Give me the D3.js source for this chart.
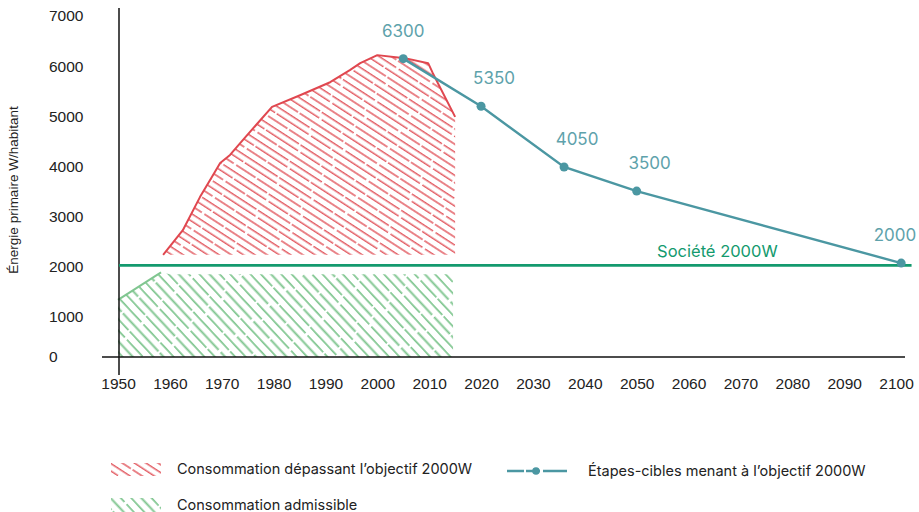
<!DOCTYPE html>
<html>
<head>
<meta charset="utf-8">
<script src="https://cdn.jsdelivr.net/npm/d3@7"></script>
<style>
  body { margin: 0; background: #fff; }
  svg { display: block; }
  .tick text { font-family: "Liberation Sans", Arial, sans-serif; fill: #222; }
</style>
</head>
<body>
<svg width="919" height="512"></svg>
<script>
// tick labels
var xTicks = [1950, 1960, 1970, 1980, 1990, 2000, 2010, 2020, 2030, 2040, 2050, 2060, 2070, 2080, 2090, 2100];
var yTicks = [0, 1000, 2000, 3000, 4000, 5000, 6000, 7000];

// consumption above the 2000W target
var redYears  = [1958.7, 1962.5, 1965.8, 1968.1, 1969.7, 1971.6, 1974.1, 1979.7, 1985.1, 1990.9, 1994.7, 1996.7, 2000.0, 2005.3, 2009.8, 2010.7, 2015.0];
var redValues = [2240, 2730, 3390, 3790, 4070, 4230, 4530, 5190, 5420, 5680, 5920, 6060, 6220, 6160, 6060, 5860, 4990];
var redBase = 2240;

// admissible consumption
var greenYears  = [1950, 1958.3, 1960, 2014.6];
var greenValues = [1340, 1890, 1850, 1850];

// target milestones
var stepYears  = [2005, 2020, 2036, 2050, 2101];
var stepValues = [6150, 5200, 3990, 3510, 2075];
var stepLabels = ["6300", "5350", "4050", "3500", "2000"];

// 2000W society line
var societyYears = [1950, 2103];
var societyValue = 2030;

var svg = d3.select("svg");

var x = d3.scaleLinear().domain([1950, 2100]).range([118, 896]);
var y = d3.scaleLinear().domain([0, 1000, 7000]).range([357, 317, 16]);

var red = "#e0474f", redHatch = "#e25a61";
var green = "#139a6e", greenHatch = "#80c690";
var teal = "#4b97a2", tealText = "#5ea2ab";

var defs = svg.append("defs");
// hand-drawn looking hatch: 3 rows per tile, each with its own small breaks
function hatch(id, color, angle, gap, width) {
  var p = defs.append("pattern")
      .attr("id", id)
      .attr("patternUnits", "userSpaceOnUse")
      .attr("width", 120)
      .attr("height", gap * 3)
      .attr("patternTransform", "rotate(" + angle + ")");
  [0, 47, 83].forEach(function(off, i) {
    p.append("line")
        .attr("x1", 0).attr("x2", 120)
        .attr("y1", gap * (i + 0.5)).attr("y2", gap * (i + 0.5))
        .attr("stroke", color)
        .attr("stroke-width", width)
        .attr("stroke-dasharray", "52 2 38 3 23 2")
        .attr("stroke-dashoffset", off);
  });
}
hatch("hatchRed", redHatch, 33, 6.5, 1.5);
hatch("hatchGreen", greenHatch, 47, 7.5, 1.8);

// areas
var redPts = redYears.map(function(d, i) { return [d, redValues[i]]; });
var greenPts = greenYears.map(function(d, i) { return [d, greenValues[i]]; });

svg.append("path")
    .datum(greenPts)
    .attr("fill", "url(#hatchGreen)")
    .attr("d", d3.area()
        .x(function(d) { return x(d[0]); })
        .y0(y(0))
        .y1(function(d) { return y(d[1]); }));

svg.append("path")
    .datum(greenPts.slice(0, 2))
    .attr("fill", "none")
    .attr("stroke", greenHatch)
    .attr("stroke-width", 2)
    .attr("d", d3.line()
        .x(function(d) { return x(d[0]); })
        .y(function(d) { return y(d[1]); }));

svg.append("path")
    .datum(redPts)
    .attr("fill", "url(#hatchRed)")
    .attr("d", d3.area()
        .x(function(d) { return x(d[0]); })
        .y0(y(redBase))
        .y1(function(d) { return y(d[1]); }));

svg.append("path")
    .datum(redPts)
    .attr("fill", "none")
    .attr("stroke", red)
    .attr("stroke-width", 2)
    .attr("stroke-linejoin", "round")
    .attr("d", d3.line()
        .x(function(d) { return x(d[0]); })
        .y(function(d) { return y(d[1]); }));

// axes
svg.append("line")
    .attr("x1", x(1950) + 1).attr("x2", x(1950) + 1)
    .attr("y1", 8).attr("y2", 375)
    .attr("stroke", "#111").attr("stroke-width", 1.5);
svg.append("line")
    .attr("x1", 102).attr("x2", 905)
    .attr("y1", y(0)).attr("y2", y(0))
    .attr("stroke", "#111").attr("stroke-width", 1.5);

var yAxis = svg.append("g")
    .call(d3.axisLeft(y).tickValues(yTicks).tickSize(0).tickFormat(d3.format("d")));
yAxis.select(".domain").remove();
yAxis.selectAll("text")
    .attr("x", 49)
    .attr("text-anchor", "start")
    .style("font-size", "15.5px");

var xAxis = svg.append("g")
    .attr("transform", "translate(0," + (y(0) + 27) + ")")
    .call(d3.axisBottom(x).tickValues(xTicks).tickSize(0).tickFormat(d3.format("d")));
xAxis.select(".domain").remove();
xAxis.selectAll("text")
    .attr("y", 0)
    .attr("dy", "0.32em")
    .style("font-size", "15.5px");

svg.append("text")
    .attr("transform", "translate(18,190) rotate(-90)")
    .attr("text-anchor", "middle")
    .style("font-family", "'Liberation Sans', Arial, sans-serif")
    .style("font-size", "13.5px")
    .attr("fill", "#222")
    .text("Énergie primaire W/habitant");

// 2000W society line
svg.append("line")
    .attr("x1", x(societyYears[0]) + 1).attr("x2", x(societyYears[1]))
    .attr("y1", y(societyValue)).attr("y2", y(societyValue))
    .attr("stroke", green).attr("stroke-width", 2.8);

svg.append("text")
    .attr("x", x(2070) - 23)
    .attr("y", y(societyValue) - 8)
    .attr("text-anchor", "middle")
    .style("font-family", "Inter, 'Noto Sans', sans-serif")
    .style("font-size", "16.5px")
    .attr("fill", green)
    .text("Société 2000W");

// milestones
var stepPts = stepYears.map(function(d, i) { return [d, stepValues[i], stepLabels[i]]; });
svg.append("path")
    .datum(stepPts)
    .attr("fill", "none")
    .attr("stroke", teal)
    .attr("stroke-width", 2.4)
    .attr("d", d3.line()
        .x(function(d) { return x(d[0]); })
        .y(function(d) { return y(d[1]); }));

svg.selectAll(".step")
  .data(stepPts)
  .enter().append("circle")
    .attr("class", "step")
    .attr("cx", function(d) { return x(d[0]); })
    .attr("cy", function(d) { return y(d[1]); })
    .attr("r", 4.5)
    .attr("fill", teal);

var last = stepPts.length - 1;
svg.selectAll(".steplabel")
  .data(stepPts)
  .enter().append("text")
    .attr("class", "steplabel")
    .attr("x", function(d, i) { return x(d[0]) + (i === 0 ? 0 : i === last ? 15 : 13); })
    .attr("y", function(d) { return y(d[1]) - 22; })
    .attr("text-anchor", function(d, i) { return i === last ? "end" : "middle"; })
    .style("font-family", "Inter, 'Noto Sans', sans-serif")
    .style("font-size", "17px")
    .attr("fill", tealText)
    .text(function(d) { return d[2]; });

// legend
var lf = "Inter, 'Noto Sans', sans-serif";
svg.append("rect")
    .attr("x", 111).attr("y", 463).attr("width", 50).attr("height", 13)
    .attr("fill", "url(#hatchRed)");
svg.append("text")
    .attr("x", 177).attr("y", 474)
    .style("font-family", lf).style("font-size", "14.5px").attr("fill", "#222")
    .text("Consommation dépassant l’objectif 2000W");

svg.append("rect")
    .attr("x", 111).attr("y", 498).attr("width", 50).attr("height", 14)
    .attr("fill", "url(#hatchGreen)");
svg.append("text")
    .attr("x", 177).attr("y", 510)
    .style("font-family", lf).style("font-size", "14.5px").attr("fill", "#222")
    .text("Consommation admissible");

svg.append("line")
    .attr("x1", 507).attr("x2", 567)
    .attr("y1", 471).attr("y2", 471)
    .attr("stroke", teal).attr("stroke-width", 2.4)
    .attr("stroke-dasharray", "17 2 14 3 24");
svg.append("circle")
    .attr("cx", 536).attr("cy", 471).attr("r", 3.8)
    .attr("fill", teal);
svg.append("text")
    .attr("x", 588).attr("y", 476)
    .style("font-family", lf).style("font-size", "14.5px").attr("fill", "#222")
    .text("Étapes-cibles menant à l’objectif 2000W");
</script>
</body>
</html>
